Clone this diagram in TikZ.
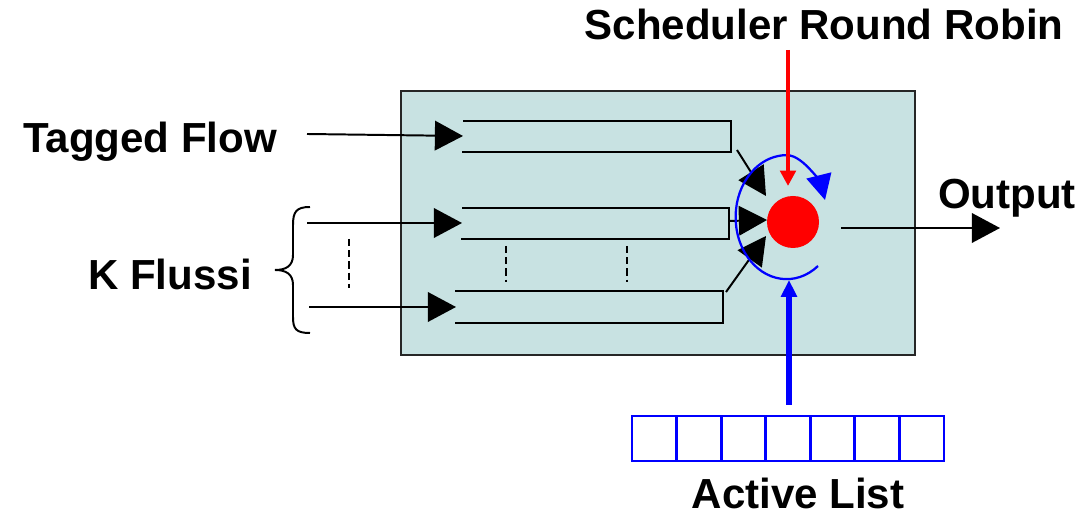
\documentclass[tikz,border=0pt]{standalone}
\usepackage{fontspec}
\setmainfont{Liberation Sans}
\usetikzlibrary{arrows.meta}

\definecolor{sfondo}{RGB}{200,226,226}
\definecolor{blu}{RGB}{0,0,255}
\definecolor{rosso}{RGB}{255,0,0}

\tikzset{
  etichetta/.style={font=\fontsize{29.9}{34}\selectfont\bfseries, inner sep=0pt, anchor=base},
  coda/.style={line width=1.4pt},
  tratteggio/.style={line width=1.3pt, dash pattern=on 5pt off 3pt},
  freccia/.style={line width=1.4pt, -{Triangle[length=20pt,width=21pt]}},
  cella/.style={draw=blu, line width=2pt, minimum width=1.114cm, minimum height=1.125cm, inner sep=0pt, outer sep=0pt}
}

\begin{document}
\begin{tikzpicture}[x=0.025cm, y=0.025cm]

    \useasboundingbox (0,0) rectangle (1083,517);

    % Riquadro dello scheduler
    \draw[fill=sfondo, draw=black!85, line width=1.4pt] (401,162) rectangle (915,426);

    % Etichette
    \node[etichetta] (srr) at (824,477) {Scheduler Round Robin};
    \node[etichetta] (tf)  at (150,364) {Tagged Flow};
    \node[etichetta] (kf)  at (170,227) {K Flussi};
    \node[etichetta] (out) at (1007,308) {Output};
    \node[etichetta] (al)  at (798,8)   {Active List};

    % Code dei flussi
    \coordinate (q1) at (463,381);
    \coordinate (q2) at (462,294);
    \coordinate (q3) at (456,210);
    \draw[coda] (463,396) -| (731,365) -- (462,365);
    \draw[coda] (462,309) -| (729,278) -- (461,278);
    \draw[coda] (455,226) -| (723,194) -- (455,194);

    \draw[tratteggio] (506,271) -- (506,235);
    \draw[tratteggio] (627,271) -- (627,235);
    \draw[tratteggio] (349,278) -- (349,229);

    % Flussi in ingresso
    \coordinate (in1) at (307,383);
    \coordinate (in2) at (307,294);
    \coordinate (in3) at (309,210);
    \draw[freccia] (in1) -- (q1);
    \draw[freccia] (in2) -- (q2);
    \draw[freccia] (in3) -- (q3);

    % Parentesi dei K flussi
    \draw[line width=1.4pt]
        (310,310) .. controls (296,310) and (293,305) .. (293,292)
        -- (293,262) .. controls (293,251) and (286,247) .. (275,247)
        .. controls (286,247) and (293,243) .. (293,232)
        -- (293,200) .. controls (293,188) and (296,184) .. (310,184);

    % Server
    \node[circle, fill=rosso, minimum size=1.3cm, inner sep=0pt] (srv) at (793,295) {};

    % Uscite delle code verso il server
    \coordinate (u1) at (737,367);
    \coordinate (u2) at (729,296);
    \coordinate (u3) at (726,225);
    \coordinate (s1) at (766,321);
    \coordinate (s2) at (767,297);
    \coordinate (s3) at (766,281);
    \draw[freccia] (u1) -- (s1);
    \draw[freccia] (u2) -- (s2);
    \draw[freccia] (u3) -- (s3);

    % Uscita
    \coordinate (o0) at (841,289);
    \coordinate (o1) at (1000,289);
    \draw[freccia] (o0) -- (o1);

    % Giro del round robin
    \draw[blu, line width=1.6pt, -{Triangle[length=18pt,width=18pt]}]
        (818,251) arc[start angle=-52, end angle=-270, x radius=51, y radius=62]
        .. controls +(18,0) and +(-3,12) .. (825,317);

    % Puntatore dello scheduler
    \coordinate (r0) at (788,467);
    \coordinate (r1) at (788,331);
    \draw[rosso, line width=2.8pt, -{Triangle[length=11pt,width=11pt]}] (r0) -- (r1);

    % Lista dei flussi attivi
    \foreach \i in {1,...,7}
        \node[cella] (c\i) at ({632+44.57*(\i-0.5)},78.5) {};

    \coordinate (a0) at (789,112);
    \coordinate (a1) at (789,237);
    \draw[blu, line width=4pt, -{Triangle[length=12pt,width=11pt]}] (a0) -- (a1);

\end{tikzpicture}
\end{document}
